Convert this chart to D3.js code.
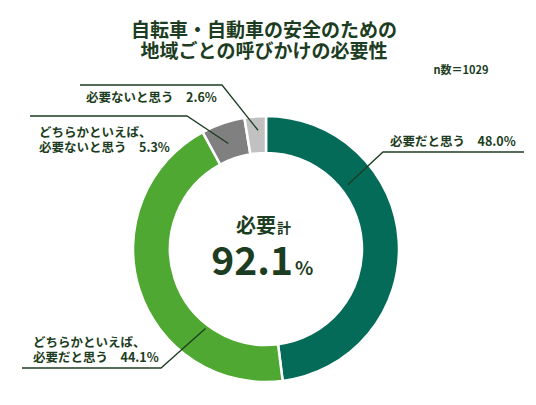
<!DOCTYPE html>
<html>
<head>
<meta charset="utf-8">
<script src="https://cdn.jsdelivr.net/npm/d3@7"></script>
<style>
  body { margin: 0; background: #fff; }
  text { font-family: "Noto Sans CJK JP", "Noto Sans", sans-serif; font-weight: bold; fill: #1d3d22; }
</style>
</head>
<body>
<div id="chart"></div>
<script>
var categories = ["必要だと思う", "どちらかといえば、必要だと思う", "どちらかといえば、必要ないと思う", "必要ないと思う"];
var values = [48.0, 44.1, 5.3, 2.6];
var colors = ["#046b59", "#4ea832", "#808080", "#c1c1c1"];
var titleLines = ["自転車・自動車の安全のための", "地域ごとの呼びかけの必要性"];
var nLabel = "n数＝1029";
var totalLabel = "92.1";

var w = 536, h = 405;
var cx = 266, cy = 249;
var outerR = 133, innerR = 96;

var svg = d3.select("#chart").append("svg")
    .attr("width", w)
    .attr("height", h);

// title
svg.selectAll("text.title")
    .data(titleLines)
    .enter()
    .append("text")
    .attr("class", "title")
    .attr("x", 264)
    .attr("y", function(d, i) { return 37 + i * 21; })
    .attr("text-anchor", "middle")
    .attr("font-size", 19)
    .text(function(d) { return d; });

svg.append("text")
    .attr("x", 461)
    .attr("y", 74)
    .attr("text-anchor", "middle")
    .attr("font-size", 11)
    .text(nLabel);

// donut
var pie = d3.pie().sort(null).value(function(d) { return d; });
var arc = d3.arc().innerRadius(innerR).outerRadius(outerR);
var arcs = pie(values);

var g = svg.append("g").attr("transform", "translate(" + cx + "," + cy + ")");
g.selectAll("path")
    .data(arcs)
    .enter()
    .append("path")
    .attr("d", arc)
    .attr("fill", function(d, i) { return colors[i]; })
    .attr("stroke", "#fff")
    .attr("stroke-width", 2.5);

// center text
svg.append("text")
    .attr("x", 276).attr("y", 233)
    .attr("text-anchor", "end")
    .attr("font-size", 20)
    .text("必要");
svg.append("text")
    .attr("x", 277).attr("y", 233)
    .attr("font-size", 14)
    .text("計");
svg.append("text")
    .attr("x", 293).attr("y", 275)
    .attr("text-anchor", "end")
    .attr("font-size", 39)
    .text(totalLabel);
svg.append("text")
    .attr("x", 295).attr("y", 275)
    .attr("font-size", 19)
    .text("%");

// leader lines and labels (f = position along the slice, r = radius of the line's start)
var labels = [
    { f: 0.30, r: 104, elbow: [383, 152], end: 524, ty: [146], tx: 390 },
    { f: 0.28, r: 100, elbow: [161, 368], end: 22, ty: [347, 362], tx: 33 },
    { f: 0.46, r: 112, elbow: [187, 116], end: 30, ty: [137, 152], tx: 39 },
    { f: 0.59, r: 119, elbow: [222, 85], end: 80, ty: [102], tx: 86 }
];

var lineText = [
    ["必要だと思う　" + values[0].toFixed(1) + "%"],
    ["どちらかといえば、", "必要だと思う　" + values[1].toFixed(1) + "%"],
    ["どちらかといえば、", "必要ないと思う　" + values[2].toFixed(1) + "%"],
    ["必要ないと思う　" + values[3].toFixed(1) + "%"]
];

arcs.forEach(function(a, i) {
    var L = labels[i];
    var ang = a.startAngle + (a.endAngle - a.startAngle) * L.f;
    var px = cx + Math.sin(ang) * L.r;
    var py = cy - Math.cos(ang) * L.r;
    svg.append("polyline")
        .attr("points", [[px, py], L.elbow, [L.end, L.elbow[1]]].map(function(p) { return p.join(","); }).join(" "))
        .attr("fill", "none")
        .attr("stroke", "#1d3d22")
        .attr("stroke-width", 1.3);
    lineText[i].forEach(function(t, j) {
        svg.append("text")
            .attr("x", L.tx)
            .attr("y", L.ty[j])
            .attr("font-size", 12.5)
            .text(t);
    });
});
</script>
</body>
</html>
